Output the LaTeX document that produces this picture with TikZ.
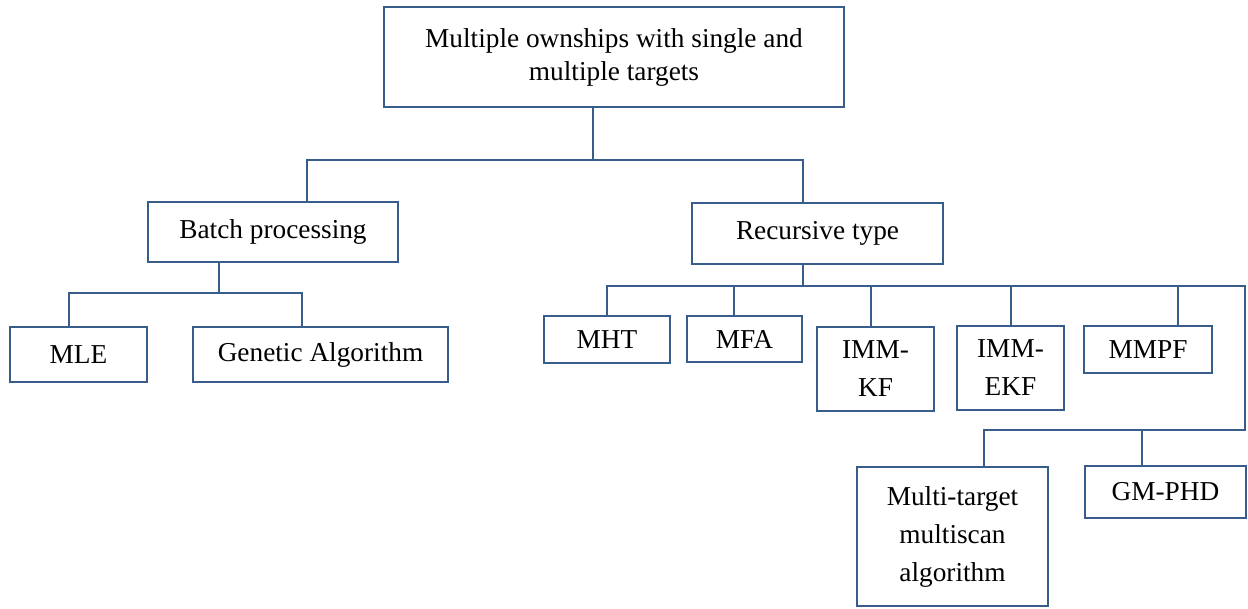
\documentclass[tikz,border=0pt]{standalone}
\usepackage{fontspec}
\setmainfont{Liberation Serif}
\usepackage{tikz}
\usetikzlibrary{positioning}
\definecolor{boxblue}{HTML}{385D8A}

\begin{document}
\begin{tikzpicture}[
    x=1pt, y=-1pt,
    font=\fontsize{27.3}{38}\selectfont,
    box/.style={draw=boxblue, line width=2.8pt, text=black, align=center, inner sep=2pt},
    link/.style={draw=boxblue, line width=2.8pt}
]
\useasboundingbox (0,0) rectangle (1248,608);

\node[box, minimum width=460, minimum height=100, font=\fontsize{27.3}{33}\selectfont] (root) at (614,57) {Multiple ownships with single and\\multiple targets};
\node[box, minimum width=250, minimum height=60] (batch) at (273,232) {Batch processing};
\node[box, minimum width=251, minimum height=61] (recur) at (817.5,233.5) {Recursive type};

\node[box, minimum width=137, minimum height=55] (mle) at (78.5,354.5) {MLE};
\node[box, minimum width=255, minimum height=55] (genetic) at (320.5,354.5) {Genetic Algorithm};

\node[box, minimum width=126, minimum height=47] (mht) at (607,339.5) {MHT};
\node[box, minimum width=115, minimum height=46] (mfa) at (744.5,339) {MFA};
\node[box, minimum width=117, minimum height=84] (immkf) at (875.5,369) {IMM-\\KF};
\node[box, minimum width=107, minimum height=84] (immekf) at (1010.5,368) {IMM-\\EKF};
\node[box, minimum width=128, minimum height=47] (mmpf) at (1148,349.5) {MMPF};
\node[box, minimum width=191, minimum height=139] (multiscan) at (952.5,536.5) {Multi-target\\multiscan\\algorithm};
\node[box, minimum width=161, minimum height=52] (gmphd) at (1165.5,492) {GM-PHD};

\coordinate (top bus) at (593,160);
\coordinate (batch bus) at (219,293);
\coordinate (rec bus) at (803,286);
\coordinate (side bus) at (1245,430);

\draw[link] ([xshift=-21]root.south) -- (top bus);
\draw[link] ([xshift=34]batch.north) |- (top bus) -| ([xshift=-14.5]recur.north);

\draw[link] ([xshift=-54]batch.south) -- (batch bus);
\draw[link] ([xshift=-9.5]mle.north) |- (batch bus) -| ([xshift=-18.5]genetic.north);

\draw[link] ([xshift=-14.5]recur.south) -- (rec bus);
\draw[link] (mht.north) |- (rec bus) -| (side bus) -| ([xshift=31.5]multiscan.north);
\foreach \n/\dx in {mfa/-10.5, immkf/-4.5, immekf/0.5, mmpf/30}
    \draw[link] ([xshift=\dx]\n.north) |- (rec bus);
\draw[link] ([xshift=-23.5]gmphd.north) |- (side bus);
\end{tikzpicture}
\end{document}
